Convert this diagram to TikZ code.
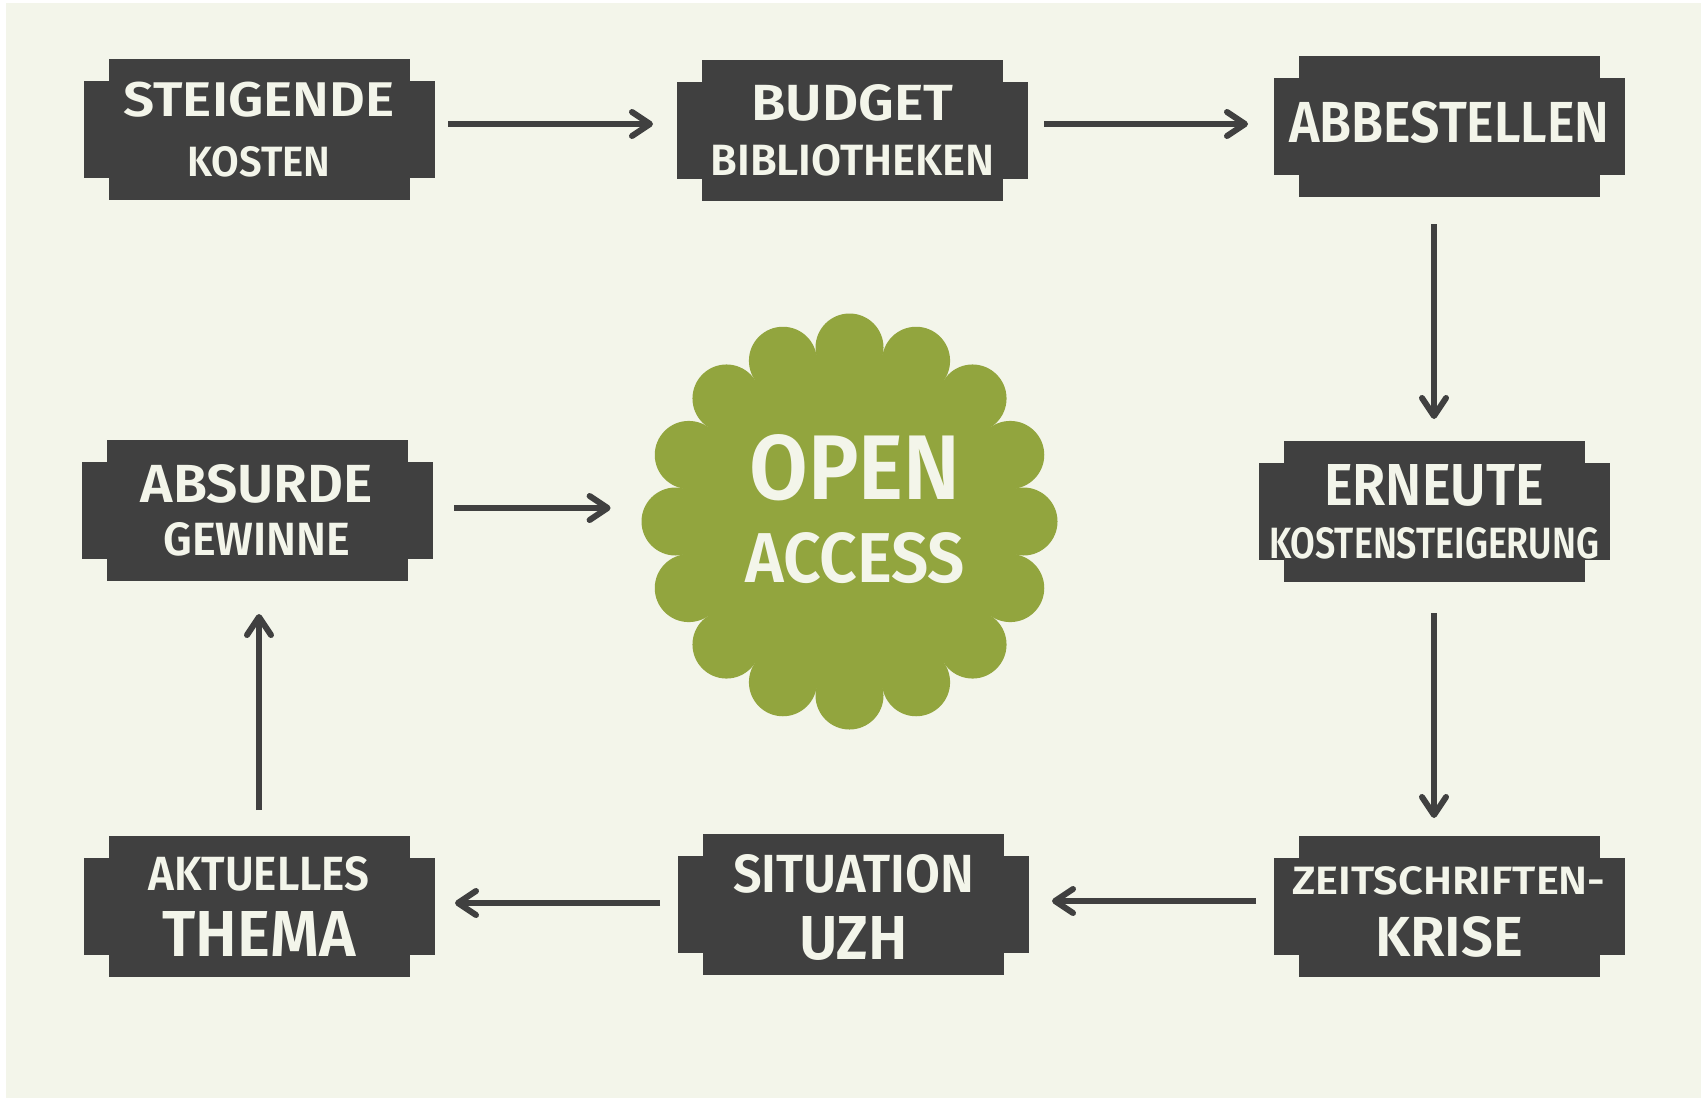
\documentclass[tikz,border=0pt]{standalone}
\usepackage{fontspec}
\setmainfont{Fira Sans}[UprightFont={* SemiBold}]
\usepackage{graphicx}
\usetikzlibrary{arrows.meta,backgrounds}
\definecolor{cream}{HTML}{F3F5EA}
\definecolor{slate}{HTML}{404040}
\definecolor{oagreen}{HTML}{92A53E}
\newdimen\pxu \pxu=0.5pt
\newcommand\capline[3]{\makebox[0pt]{\resizebox{#1\pxu}{#2\pxu}{\fontsize{20}{20}\selectfont #3}}}

\begin{document}
\begin{tikzpicture}[x=0.5pt,y=-0.5pt,
  plaque/.style={fill=slate,text=cream,minimum width=301\pxu,minimum height=141\pxu,
    inner sep=0pt,outer xsep=25\pxu,outer ysep=0pt,align=center,
    font={\baselineskip=0pt\lineskiplimit=-1000pt}},
  flow/.style={draw=slate,line width=3pt,-{Straight Barb[length=9pt,width=12pt,round]}}]
  \node[plaque] (b1) at (259,129.5) {\capline{271}{34.5}{STEIGENDE}\\[60\pxu]\capline{143}{30}{KOSTEN}};
  \node[plaque] (b2) at (852.5,130.5) {\capline{202}{36}{BUDGET}\\[55\pxu]\capline{284}{31}{BIBLIOTHEKEN}};
  \node[plaque] (b3) at (1449.5,126.5) {\rule[-10\pxu]{0pt}{10\pxu}\capline{320}{41}{ABBESTELLEN}};
  \node[plaque] (b4) at (257,510.5) {\capline{232}{38}{ABSURDE}\\[53\pxu]\capline{187}{33}{GEWINNE}};
  \node[plaque] (b5) at (1434,511.5) {\capline{220}{41}{ERNEUTE}\\[53\pxu]\capline{330}{31}{KOSTENSTEIGERUNG}};
  \node[plaque] (b6) at (259,906.5) {\capline{221}{34}{AKTUELLES}\\[66\pxu]\capline{193}{45}{THEMA}};
  \node[plaque] (b7) at (853.5,904.5) {\rule{0pt}{44\pxu}\capline{241}{38}{SITUATION}\\[67\pxu]\capline{109}{43}{UZH}};
  \node[plaque] (b8) at (1449,906.5) {\rule{0pt}{39\pxu}\capline{313}{28}{ZEITSCHRIFTEN-}\\[62\pxu]\capline{148}{40}{KRISE}};
  \node[circle,minimum size=416\pxu,inner sep=0pt] (oa) at (849.5,521.5) {};
  \node[text=cream,align=center,font={\baselineskip=0pt\lineskiplimit=-1000pt}] (oatext) at ([xshift=2.75pt,yshift=6.25pt]oa.center)
    {\capline{211}{65}{OPEN}\\[83\pxu]\capline{220}{50}{ACCESS}};
  \draw[flow,shorten <=13.5\pxu,shorten >=24\pxu] ([yshift=2.75pt]b1.east) -- ([yshift=2.75pt]b1.east -| b2.west);
  \draw[flow,shorten <=16\pxu,shorten >=26\pxu] ([yshift=3.25pt]b2.east) -- ([yshift=3.25pt]b2.east -| b3.west);
  \draw[flow,shorten <=27\pxu,shorten >=22\pxu] (b3.south -| b5.north) -- (b5.north);
  \draw[flow,shorten <=31\pxu,shorten >=18\pxu] (b5.south) -- (b5.south |- b8.north);
  \draw[flow,shorten <=17.5\pxu,shorten >=23\pxu] ([yshift=2.75pt]b8.west) -- ([yshift=2.75pt]b8.west -| b7.east);
  \draw[flow,shorten <=18\pxu,shorten >=20.5\pxu] ([yshift=0.75pt]b7.west) -- ([yshift=0.75pt]b7.west -| b6.east);
  \draw[flow,shorten <=26\pxu,shorten >=33\pxu] (b6.north) -- (b6.north |- b4.south);
  \draw[flow,shorten <=21.5\pxu,shorten >=30.5\pxu] ([yshift=1.25pt]b4.east) -- ([yshift=1.25pt]b4.east -| oa.west);
  \begin{pgfonlayer}{background}
    \fill[white] (0,0) rectangle (1701,1098);
    \fill[cream] (6,3) rectangle (1701,1098);
    \foreach \i in {1,...,8}
      \fill[slate] ([yshift=-22\pxu]b\i.north west) rectangle ([yshift=22\pxu]b\i.south east);
    \fill[oagreen] (oa.center) circle (170\pxu);
    \foreach \a in {0,22.5,...,337.5}
      \fill[oagreen,shift={(oa.center)}] (\a:174\pxu) circle (34\pxu);
  \end{pgfonlayer}
\end{tikzpicture}
\end{document}
